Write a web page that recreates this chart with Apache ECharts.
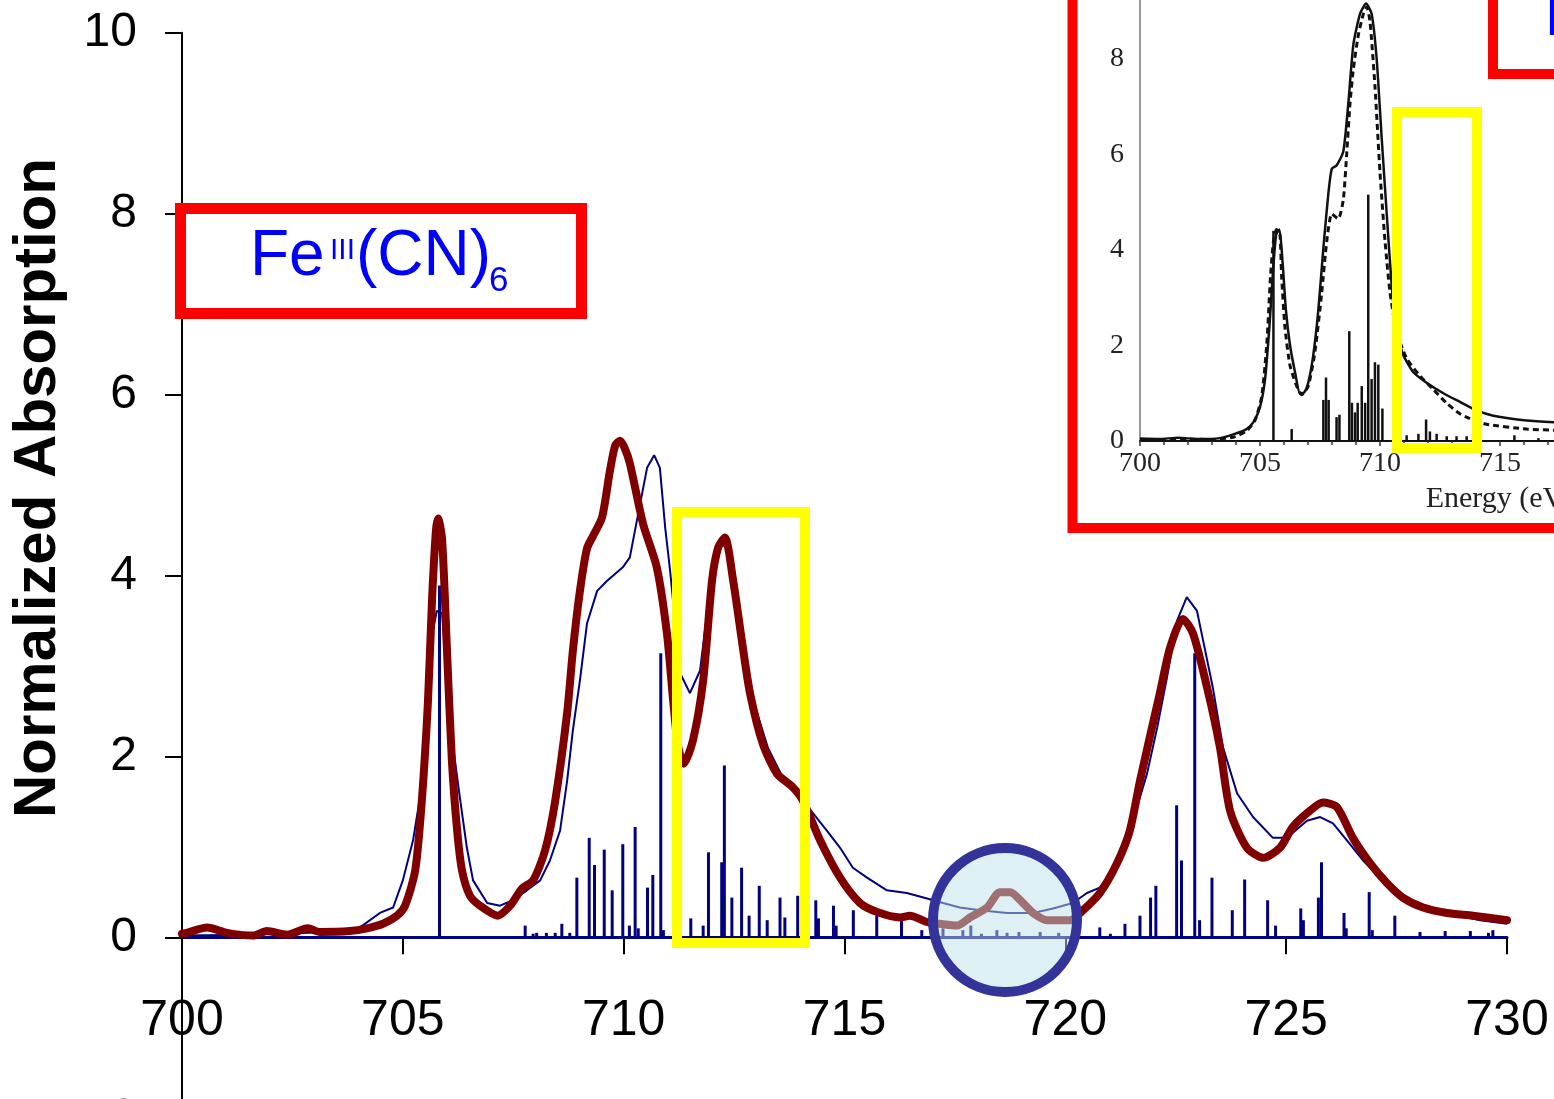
<!DOCTYPE html>
<html>
<head>
<meta charset="utf-8">
<script src="https://cdn.jsdelivr.net/npm/echarts@6/dist/echarts.min.js"></script>
<style>
  html, body { margin: 0; padding: 0; background: #fff; }
  #chart { width: 1554px; height: 1099px; }
</style>
</head>
<body>
<div id="chart"></div>
<script>
// Fe L-edge spectrum: measured (thick), calculated (thin) and transition sticks
const expMain = [[700.00,0.04],[700.11,0.05],[700.57,0.11],[701.02,0.05],[701.61,0.02],[701.92,0.07],[702.38,0.03],[702.85,0.10],[703.12,0.06],[703.80,0.07],[704.19,0.10],[704.55,0.15],[704.87,0.24],[705.05,0.35],[705.28,0.74],[705.43,1.51],[705.57,2.62],[705.66,3.72],[705.75,4.50],[705.80,4.63],[705.89,4.39],[706.00,3.17],[706.11,1.96],[706.23,1.18],[706.34,0.74],[706.52,0.46],[706.75,0.35],[707.15,0.24],[707.43,0.35],[707.70,0.54],[707.95,0.63],[708.22,0.96],[708.45,1.51],[708.72,2.48],[708.85,3.17],[709.01,3.83],[709.17,4.30],[709.31,4.44],[709.51,4.64],[709.69,5.16],[709.81,5.44],[709.92,5.49],[710.03,5.40],[710.14,5.24],[710.44,4.57],[710.75,4.09],[710.98,3.36],[711.12,2.62],[711.23,2.12],[711.36,1.92],[711.57,2.18],[711.80,2.84],[712.00,3.94],[712.14,4.31],[712.29,4.42],[712.48,3.94],[712.70,3.20],[712.86,2.70],[713.15,2.14],[713.47,1.81],[713.83,1.66],[714.06,1.51],[714.45,1.07],[714.90,0.66],[715.35,0.38],[715.74,0.28],[716.26,0.22],[716.48,0.24],[716.87,0.17],[717.16,0.15],[717.55,0.13],[717.84,0.22],[718.23,0.33],[718.52,0.50],[718.75,0.50],[719.04,0.38],[719.27,0.27],[719.58,0.19],[719.88,0.19],[720.11,0.19],[720.40,0.30],[720.78,0.49],[721.17,0.82],[721.46,1.18],[721.69,1.73],[722.14,2.70],[722.37,3.20],[722.66,3.52],[722.89,3.36],[723.21,2.76],[723.50,2.10],[723.73,1.40],[724.11,0.99],[724.48,0.88],[724.86,0.99],[725.15,1.22],[725.54,1.40],[725.83,1.49],[726.15,1.44],[726.51,1.10],[726.90,0.82],[727.28,0.60],[727.64,0.44],[728.10,0.33],[728.64,0.27],[729.23,0.24],[730.00,0.19]];

const calcMain = [[700.00,0.02],[701.54,0.03],[703.35,0.06],[704.03,0.11],[704.48,0.27],[704.78,0.33],[705.00,0.63],[705.23,1.07],[705.39,1.55],[705.55,2.48],[705.68,3.39],[705.77,3.61],[705.89,3.58],[706.00,2.84],[706.14,2.10],[706.29,1.55],[706.45,0.99],[706.59,0.63],[706.91,0.38],[707.20,0.35],[707.49,0.41],[707.81,0.52],[708.11,0.63],[708.33,0.85],[708.56,1.18],[708.72,1.73],[708.85,2.29],[709.01,2.84],[709.17,3.47],[709.40,3.83],[709.62,3.94],[709.98,4.09],[710.14,4.20],[710.30,4.61],[710.53,5.19],[710.69,5.33],[710.82,5.19],[710.94,4.53],[711.05,4.06],[711.28,2.92],[711.50,2.70],[711.73,2.95],[711.95,3.83],[712.18,4.33],[712.34,4.33],[712.52,3.83],[712.75,3.17],[712.97,2.56],[713.27,2.09],[713.61,1.76],[713.99,1.55],[714.29,1.37],[714.60,1.18],[714.90,0.99],[715.19,0.77],[715.51,0.66],[715.96,0.52],[716.41,0.49],[716.87,0.43],[717.23,0.38],[717.61,0.33],[718.07,0.30],[718.68,0.27],[719.27,0.27],[719.72,0.32],[720.17,0.38],[720.49,0.49],[720.78,0.55],[721.24,0.85],[721.53,1.29],[721.85,1.81],[722.08,2.32],[722.30,2.87],[722.53,3.50],[722.75,3.76],[722.98,3.61],[723.12,3.28],[723.34,2.76],[723.57,2.10],[723.89,1.59],[724.25,1.33],[724.70,1.10],[725.02,1.10],[725.47,1.29],[725.77,1.33],[726.06,1.26],[726.38,1.07],[726.74,0.85],[727.12,0.66],[727.58,0.49],[728.10,0.33],[728.64,0.27],[729.39,0.19],[730.00,0.15]];

const sticksMain = [[705.83,3.89],[707.77,0.13],[707.95,0.04],[708.03,0.05],[708.25,0.05],[708.45,0.05],[708.60,0.15],[708.78,0.05],[708.94,0.66],[709.22,1.10],[709.34,0.80],[709.56,0.97],[709.74,0.52],[709.98,1.03],[710.13,0.13],[710.26,1.22],[710.33,0.10],[710.54,0.55],[710.66,0.69],[710.84,3.14],[710.90,0.08],[711.52,0.21],[711.80,0.13],[711.92,0.94],[712.22,0.83],[712.28,1.90],[712.45,0.44],[712.67,0.77],[712.84,0.24],[713.07,0.57],[713.25,0.19],[713.54,0.44],[713.65,0.22],[713.94,0.46],[714.35,0.41],[714.41,0.21],[714.75,0.35],[714.81,0.13],[715.20,0.30],[715.73,0.24],[716.29,0.22],[716.75,0.08],[717.23,0.10],[717.68,0.08],[717.86,0.13],[718.10,0.04],[718.45,0.08],[718.68,0.05],[718.95,0.06],[719.43,0.06],[719.85,0.05],[720.78,0.11],[721.02,0.04],[721.35,0.15],[721.69,0.24],[721.93,0.44],[722.05,0.57],[722.52,1.46],[722.63,0.85],[722.93,3.14],[723.04,0.19],[723.32,0.66],[723.78,0.30],[724.06,0.64],[724.58,0.41],[724.76,0.13],[725.33,0.32],[725.39,0.19],[725.73,0.44],[725.80,0.83],[726.31,0.27],[726.36,0.10],[726.88,0.50],[726.95,0.08],[727.46,0.24],[728.03,0.06],[728.60,0.07],[729.17,0.07],[729.58,0.05],[729.68,0.08]];

// Earlier published spectrum (experiment solid, simulation dashed, sticks)
const expInset = [[700.00,0.05],[700.80,0.04],[701.60,0.07],[702.40,0.04],[703.33,0.06],[703.89,0.14],[704.44,0.25],[704.72,0.39],[705.00,0.71],[705.21,1.29],[705.39,2.38],[705.53,3.46],[705.67,4.32],[705.81,4.43],[705.94,3.75],[706.08,2.74],[706.25,2.01],[706.46,1.44],[706.67,0.99],[706.85,1.02],[707.01,1.22],[707.22,1.80],[707.43,2.74],[707.64,4.04],[707.85,5.19],[707.99,5.70],[708.19,5.77],[708.47,6.06],[708.68,7.07],[708.89,8.30],[709.17,8.95],[709.42,9.16],[709.65,8.95],[709.86,8.01],[710.07,6.35],[710.28,4.76],[710.49,3.24],[710.69,2.30],[710.97,1.80],[711.39,1.44],[711.94,1.22],[712.64,1.00],[713.33,0.82],[714.03,0.64],[714.72,0.53],[716.11,0.43],[717.60,0.38]];

const calcInset = [[700.00,0.03],[701.00,0.02],[702.00,0.04],[703.00,0.03],[703.89,0.08],[704.44,0.21],[704.79,0.43],[705.07,0.93],[705.28,2.01],[705.44,3.46],[705.56,4.18],[705.69,4.43],[705.83,4.32],[705.90,3.46],[706.04,2.38],[706.25,1.58],[706.53,1.15],[706.74,0.97],[707.01,1.15],[707.29,1.87],[707.57,3.10],[707.78,4.18],[707.99,4.76],[708.26,4.65],[708.47,5.05],[708.61,5.99],[708.75,7.07],[708.89,7.79],[709.10,8.51],[709.31,8.95],[709.44,9.09],[709.58,8.80],[709.79,7.43],[710.00,5.62],[710.21,4.18],[710.42,3.10],[710.69,2.30],[711.11,1.73],[711.67,1.36],[712.22,1.08],[712.78,0.79],[713.33,0.57],[713.70,0.48],[714.44,0.35],[716.11,0.25],[717.60,0.22]];

const sticksInset = [[705.56,4.40],[706.32,0.25],[707.64,0.86],[707.75,1.33],[707.86,0.86],[708.19,0.50],[708.31,0.55],[708.72,2.30],[708.83,0.80],[708.96,0.60],[709.07,0.80],[709.24,1.15],[709.38,0.80],[709.51,5.16],[709.65,1.30],[709.79,1.65],[709.93,1.60],[710.10,0.68],[711.11,0.12],[711.60,0.15],[711.92,0.45],[712.08,0.20],[712.36,0.15],[712.78,0.10],[713.19,0.10],[713.61,0.10],[715.60,0.12],[716.60,0.06],[717.30,0.05]];

const sansFont = '"Liberation Sans", Arial, sans-serif';
const serifFont = '"Liberation Serif", "Times New Roman", serif';

const chart = echarts.init(document.getElementById('chart'), null, { renderer: 'canvas' });

chart.setOption({
  animation: false,
  backgroundColor: '#ffffff',
  grid: [
    { left: 182, top: 32.7, width: 1325, height: 1085.6, containLabel: false, outerBoundsMode: 'none' },
    { left: 1140, top: -36.5, width: 720, height: 477.5, containLabel: false, outerBoundsMode: 'none' }
  ],
  xAxis: [
    {
      gridIndex: 0, type: 'value', min: 700, max: 730, interval: 5,
      axisLine: { onZero: true, lineStyle: { color: '#000080', width: 3 } },
      axisTick: { show: true, length: 17, lineStyle: { color: '#000', width: 2 } },
      // labels sit just under the zero line, above the lower end of the value range
      axisLabel: { fontSize: 50, color: '#000', margin: -122, fontFamily: sansFont },
      splitLine: { show: false }
    },
    {
      gridIndex: 1, type: 'value', min: 700, max: 730, interval: 5,
      axisLine: { onZero: false, lineStyle: { color: '#111', width: 2 } },
      axisTick: { show: true, length: 5, lineStyle: { color: '#333', width: 1.5 } },
      minorTick: { show: true, splitNumber: 5, length: 4, lineStyle: { color: '#333', width: 1.5 } },
      axisLabel: { fontSize: 28, color: '#222', margin: 9, fontFamily: serifFont },
      name: 'Energy (eV)', nameLocation: 'middle', nameGap: 43,
      nameTextStyle: { fontSize: 30, color: '#222', fontFamily: serifFont },
      splitLine: { show: false }
    }
  ],
  yAxis: [
    {
      gridIndex: 0, type: 'value', min: -2, max: 10, interval: 2,
      axisLine: { show: true, onZero: false, lineStyle: { color: '#000', width: 2 } },
      axisTick: { show: true, length: 17, lineStyle: { color: '#000', width: 2 } },
      axisLabel: { fontSize: 48, color: '#000', margin: 45, fontFamily: sansFont },
      splitLine: { show: false }
    },
    {
      gridIndex: 1, type: 'value', min: 0, max: 10, interval: 2,
      axisLine: { show: true, onZero: false, lineStyle: { color: '#777', width: 1.5 } },
      axisTick: { show: false },
      axisLabel: { fontSize: 28, color: '#222', margin: 16, fontFamily: serifFont },
      splitLine: { show: false }
    }
  ],
  series: [
    {
      name: 'sticks', type: 'bar', xAxisIndex: 0, yAxisIndex: 0,
      data: sticksMain, barWidth: 3, itemStyle: { color: '#000080' }, z: 2
    },
    {
      name: 'calculated', type: 'line', xAxisIndex: 0, yAxisIndex: 0,
      data: calcMain, showSymbol: false, smooth: false,
      lineStyle: { color: '#000080', width: 2 }, z: 3
    },
    {
      name: 'measured', type: 'line', xAxisIndex: 0, yAxisIndex: 0,
      data: expMain, showSymbol: false, smooth: 0.25,
      lineStyle: { color: '#800000', width: 8, cap: 'round', join: 'round' }, z: 4
    },
    {
      name: 'inset sticks', type: 'bar', xAxisIndex: 1, yAxisIndex: 1,
      data: sticksInset, barWidth: 2.5, itemStyle: { color: '#111' }, z: 2
    },
    {
      name: 'inset measured', type: 'line', xAxisIndex: 1, yAxisIndex: 1,
      data: expInset, showSymbol: false, smooth: 0.2,
      lineStyle: { color: '#111', width: 2.5 }, z: 3
    },
    {
      name: 'inset calculated', type: 'line', xAxisIndex: 1, yAxisIndex: 1,
      data: calcInset, showSymbol: false, smooth: 0.2,
      lineStyle: { color: '#111', width: 3, type: [6, 4] }, z: 3
    }
  ],
  graphic: [
    // y axis title
    {
      type: 'text', x: 38, y: 488, rotation: Math.PI / 2, z: 100,
      style: { text: 'Normalized Absorption', fontSize: 60, fontWeight: 'bold', fontFamily: sansFont,
               fill: '#000', align: 'center', verticalAlign: 'middle' }
    },
    // compound label box
    {
      type: 'rect', z: 100,
      shape: { x: 180.5, y: 208.5, width: 401, height: 105 },
      style: { fill: '#fff', stroke: '#ff0000', lineWidth: 11 }
    },
    { type: 'text', x: 250, y: 257, z: 101,
      style: { text: 'Fe', fontSize: 64, fontFamily: sansFont, fill: '#0000ff', align: 'left', verticalAlign: 'middle' } },
    { type: 'text', x: 330, y: 251, z: 101,
      style: { text: 'III', fontSize: 30, fontFamily: sansFont, fill: '#0000ff', align: 'left', verticalAlign: 'middle' } },
    { type: 'text', x: 356, y: 257, z: 101,
      style: { text: '(CN)', fontSize: 64, fontFamily: sansFont, fill: '#0000ff', align: 'left', verticalAlign: 'middle' } },
    { type: 'text', x: 489, y: 281, z: 101,
      style: { text: '6', fontSize: 35, fontFamily: sansFont, fill: '#0000ff', align: 'left', verticalAlign: 'middle' } },
    // highlight box on the main spectrum
    {
      type: 'rect', z: 100,
      shape: { x: 677, y: 512, width: 128, height: 431 },
      style: { fill: 'none', stroke: '#ffff00', lineWidth: 10 }
    },
    // highlighted region around 718.5 eV
    {
      type: 'circle', z: 100,
      shape: { cx: 1005, cy: 920, r: 72 },
      style: { fill: 'rgba(190,225,232,0.5)', stroke: '#333399', lineWidth: 10 }
    },
    // inset frame
    {
      type: 'rect', z: 100,
      shape: { x: 1072.5, y: -20, width: 600, height: 548 },
      style: { fill: 'none', stroke: '#ff0000', lineWidth: 10 }
    },
    // highlight box on the inset
    {
      type: 'rect', z: 100,
      shape: { x: 1397, y: 112, width: 80, height: 336 },
      style: { fill: 'none', stroke: '#ffff00', lineWidth: 10 }
    },
    // second compound label box
    {
      type: 'rect', z: 100,
      shape: { x: 1493, y: -20, width: 200, height: 94 },
      style: { fill: '#fff', stroke: '#ff0000', lineWidth: 10 }
    },
    { type: 'text', x: 1545, y: 18, z: 101,
      style: { text: 'FeII(CN)6', fontSize: 60, fontFamily: sansFont, fill: '#0000ff', align: 'left', verticalAlign: 'middle' } }
  ]
});
</script>
</body>
</html>
